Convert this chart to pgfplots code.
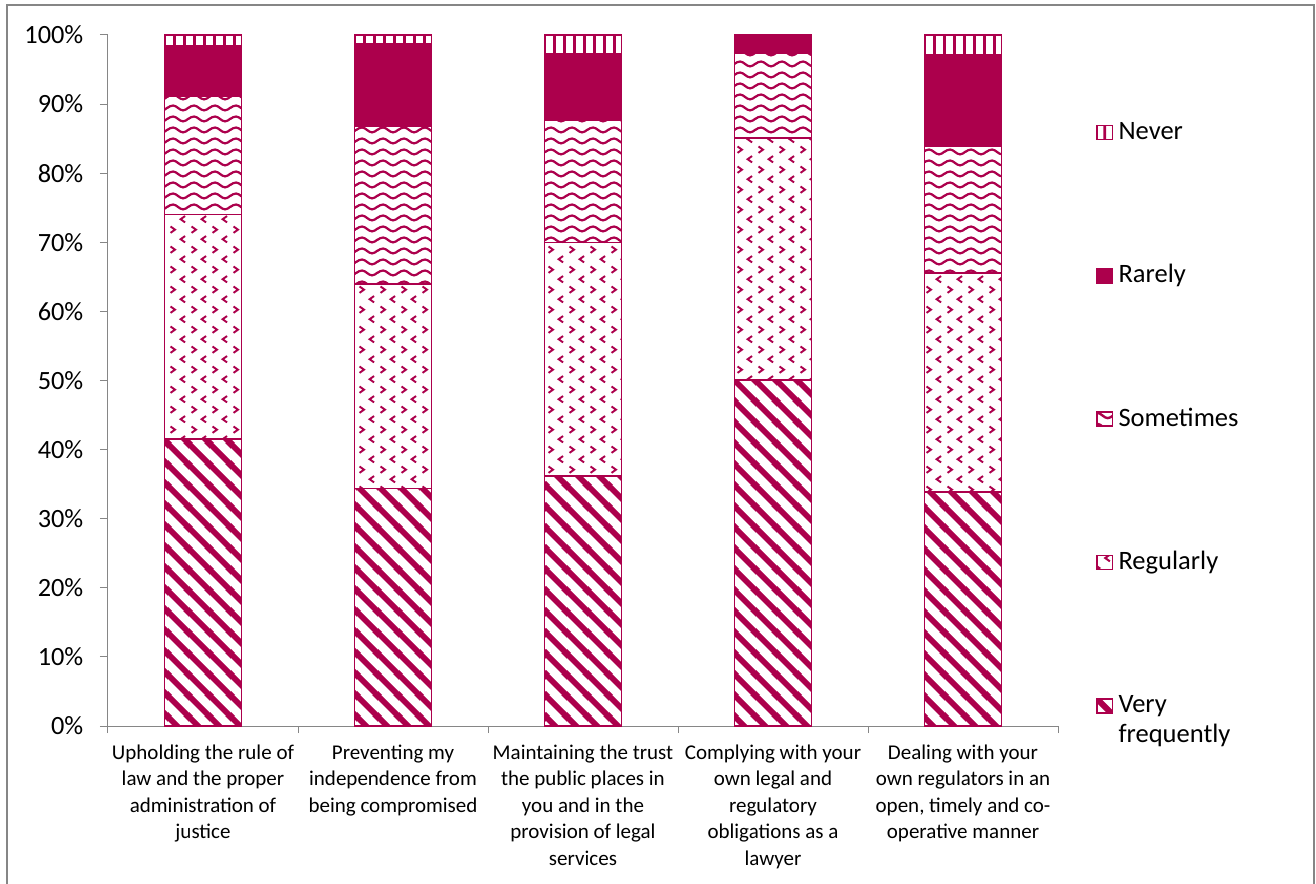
\documentclass[border=0pt]{standalone}
\usepackage{fontspec}
\setmainfont{Carlito}
\usepackage{pgfplots}
\pgfplotsset{compat=1.18}
\usetikzlibrary{patterns.meta}
\definecolor{mag}{RGB}{172,0,76}
\definecolor{framegray}{RGB}{134,134,134}
\definecolor{axgray}{RGB}{134,134,134}

\tikzdeclarepattern{
  name=vfreq, type=uncolored,
  bottom left={(0pt,0pt)}, top right={(15.75pt,15.75pt)},
  tile size={(15.75pt,15.75pt)},
  code={
    \draw[line width=4.5pt] (-3pt,18.75pt) -- (18.75pt,-3pt);
    \draw[line width=4.5pt] (-3pt,3pt) -- (3pt,-3pt);
    \draw[line width=4.5pt] (12.75pt,18.75pt) -- (18.75pt,12.75pt);
  }
}
\tikzdeclarepattern{
  name=neverpat, type=uncolored,
  bottom left={(0pt,0pt)}, top right={(7.5pt,7.5pt)},
  tile size={(7.5pt,7.5pt)},
  code={
    \draw[line width=2.25pt] (3.75pt,-1pt) -- (3.75pt,8.5pt);
  }
}
\tikzdeclarepattern{
  name=wavepat, type=uncolored,
  bottom left={(0pt,0pt)}, top right={(15.75pt,8.25pt)},
  tile size={(15.75pt,8.25pt)},
  code={
    \draw[line width=1.8pt, line cap=round] (-0.5pt,4.125pt) sin (3.94pt,6.1pt) cos (7.875pt,4.125pt) sin (11.81pt,2.15pt) cos (15.75pt,4.125pt) sin (16.5pt,4.7pt);
  }
}
\tikzdeclarepattern{
  name=chevpat, type=uncolored,
  bottom left={(0pt,0pt)}, top right={(15.75pt,15pt)},
  tile size={(15.75pt,15pt)},
  code={
    \draw[line width=1.5pt] (2.0pt,13.75pt) -- (5.5pt,11.25pt) -- (2.0pt,8.75pt);
    \draw[line width=1.5pt] (13.4pt,6.25pt) -- (9.9pt,3.75pt) -- (13.4pt,1.25pt);
  }
}

\begin{document}
\begin{tikzpicture}
\useasboundingbox (0,0) rectangle (987pt,662.25pt);
\draw[framegray, line width=1.5pt] (5.25pt,-5pt) -- (5.25pt,658.5pt) -- (985.5pt,658.5pt) -- (985.5pt,-5pt);
\begin{axis}[
  at={(81pt,117.75pt)}, anchor=south west,
  scale only axis, width=712.5pt, height=518.25pt,
  xmin=-0.5, xmax=4.5, ymin=0, ymax=100,
  ybar stacked, bar width=57.75pt,
  axis x line*=bottom, axis y line*=left,
  axis line style={axgray, line width=0.75pt, -},
  tick align=outside,
  tick style={axgray, line width=0.75pt},
  major tick length=6pt, minor tick length=5.25pt,
  major x tick style={draw=none},
  xtick={0,1,2,3,4},
  minor xtick={-0.5,0.5,1.5,2.5,3.5,4.5},
  xticklabels={
    {Upholding the rule of\\law and the proper\\administration of\\justice},
    {Preventing my\\independence from\\being compromised},
    {Maintaining the trust\\the public places in\\you and in the\\provision of legal\\services},
    {Complying with your\\own legal and\\regulatory\\obligations as a\\lawyer},
    {Dealing with your\\own regulators in an\\open, timely and co-\\operative manner}},
  xticklabel style={align=center, font=\fontsize{15.75pt}{19.9pt}\selectfont, text=black, yshift=-4.5pt},
  ytick={0,10,...,100},
  yticklabel={\pgfmathprintnumber{\tick}\%},
  /pgf/number format/assume math mode=true,
  yticklabel style={font=\fontsize{19.75pt}{22pt}\selectfont, text=black, xshift=-9pt},
  reverse legend,
  legend cell align=left,
  legend image code/.code={\draw[#1, line width=1.2pt] (0pt,-5.25pt) rectangle (11.5pt,5.25pt);},
  legend style={at={(1.04,0.881)}, anchor=north west, draw=none, fill=none, inner sep=0pt,
    font=\fontsize{19.9pt}{22pt}\selectfont, row sep=85pt,
    /tikz/every odd column/.append style={column sep=2pt},
    nodes={text height=14.5pt, text depth=4pt, inner sep=2pt}},
]
\addplot[draw=mag, line width=1.2pt, pattern=vfreq, pattern color=mag]
  coordinates {(0,41.5) (1,34.4) (2,36.2) (3,50.1) (4,33.9)};
\addlegendentry{\begin{tabular}[t]{@{}l@{}}Very\\frequently\end{tabular}}
\addplot[draw=mag, line width=1.2pt, pattern=chevpat, pattern color=mag]
  coordinates {(0,32.5) (1,29.6) (2,33.8) (3,35.0) (4,31.7)};
\addlegendentry{Regularly}
\addplot[draw=mag, line width=1.2pt, pattern=wavepat, pattern color=mag]
  coordinates {(0,17.2) (1,22.8) (2,17.7) (3,12.3) (4,18.3)};
\addlegendentry{Sometimes}
\addplot[draw=mag, line width=1.2pt, fill=mag]
  coordinates {(0,7.2) (1,11.9) (2,9.6) (3,2.6) (4,13.3)};
\addlegendentry{Rarely}
\addplot[draw=mag, line width=1.2pt, pattern=neverpat, pattern color=mag]
  coordinates {(0,1.6) (1,1.3) (2,2.7) (3,0.0) (4,2.8)};
\addlegendentry{Never}
\end{axis}
\end{tikzpicture}
\end{document}
